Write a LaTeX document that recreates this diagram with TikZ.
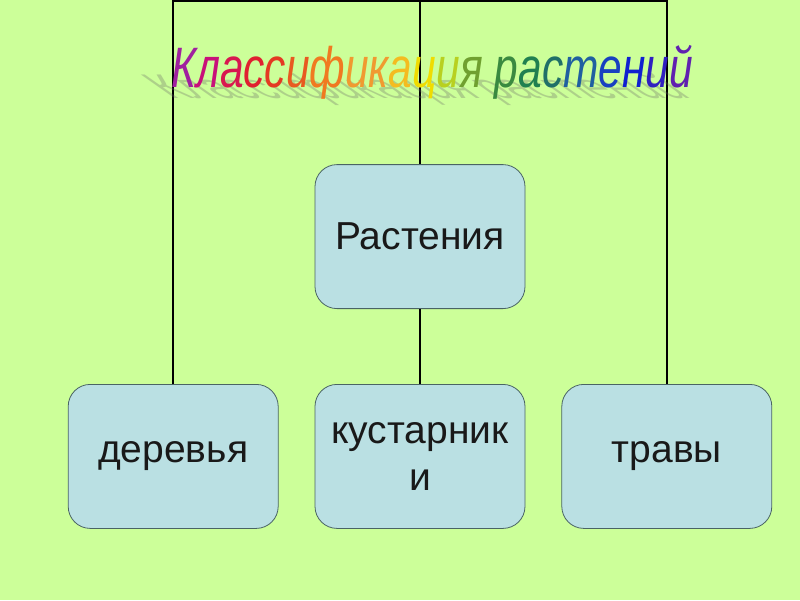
\documentclass[tikz,border=0pt]{standalone}
\usepackage{fontspec}
\setmainfont{Liberation Sans}
\newfontfamily\titlefont[FakeStretch=0.745]{Liberation Sans}
\usetikzlibrary{positioning}
\definecolor{slideGreen}{HTML}{CCFF99}
\definecolor{boxBlue}{HTML}{BAE0E3}
\definecolor{boxEdge}{HTML}{4A6464}
% rainbow letters of the heading
\definecolor{rbA}{HTML}{A0209F}
\definecolor{rbB}{HTML}{C8107A}
\definecolor{rbC}{HTML}{D81850}
\definecolor{rbD}{HTML}{E02030}
\definecolor{rbE}{HTML}{E43A22}
\definecolor{rbF}{HTML}{E85A20}
\definecolor{rbG}{HTML}{F07A20}
\definecolor{rbH}{HTML}{F09A30}
\definecolor{rbI}{HTML}{F4BC20}
\definecolor{rbJ}{HTML}{F0DC00}
\definecolor{rbK}{HTML}{B8D020}
\definecolor{rbL}{HTML}{70A030}
\definecolor{rbM}{HTML}{3A8A40}
\definecolor{rbN}{HTML}{208050}
\definecolor{rbO}{HTML}{207068}
\definecolor{rbP}{HTML}{2060A0}
\definecolor{rbQ}{HTML}{1840C0}
\definecolor{rbR}{HTML}{1020D0}
\definecolor{rbS}{HTML}{3020C0}
\definecolor{rbT}{HTML}{6020B0}
\newcommand{\rainbowtitle}{%
  \textcolor{rbA}{К}\textcolor{rbB}{л}\textcolor{rbC}{а}\textcolor{rbD}{с}%
  \textcolor{rbE}{с}\textcolor{rbF}{и}\textcolor{rbG}{ф}\textcolor{rbH}{и}%
  \textcolor{rbH}{к}\textcolor{rbI}{а}\textcolor{rbJ}{ц}\textcolor{rbK}{и}%
  \textcolor{rbL}{я} \textcolor{rbM}{р}\textcolor{rbN}{а}\textcolor{rbO}{с}%
  \textcolor{rbP}{т}\textcolor{rbQ}{е}\textcolor{rbR}{н}\textcolor{rbS}{и}%
  \textcolor{rbT}{й}}

\begin{document}
\begin{tikzpicture}[x=1pt,y=1pt,node distance=36pt,
    plantbox/.style={draw=boxEdge,fill=boxBlue,line width=0.8pt,rounded corners=22pt,
      align=center,minimum width=210pt,minimum height=144pt,
      font=\fontsize{39}{47}\selectfont,text=black!90},
    headfont/.style={font=\titlefont\itshape\fontsize{57}{60}\selectfont}]
  \fill[slideGreen] (0,0) rectangle (800,-600);
  \node[plantbox] (plants) at (420,-236.5) {Растения};
  \node[plantbox,below=75pt of plants] (shrubs) {кустарник\\и};
  \node[plantbox,left=of shrubs] (trees) {деревья};
  \node[plantbox,right=of shrubs] (herbs) {травы};
  \coordinate (top) at (420,-1);
  \draw[line width=2.2pt] (trees.north) |- (top) -| (herbs.north);
  \draw[line width=2.2pt] (top) -- (plants.north);
  \draw[line width=2.2pt] (plants.south) -- (shrubs.north);
  % shadow under the heading
  \node[headfont,anchor=base,transform shape,yscale=0.6,xslant=-1.0,text=black!60,opacity=0.3]
    (headshadow) at (434,-98) {Классификация растений};
  \node[headfont,anchor=base] (heading) at (432,-87) {\rainbowtitle};
\end{tikzpicture}
\end{document}
